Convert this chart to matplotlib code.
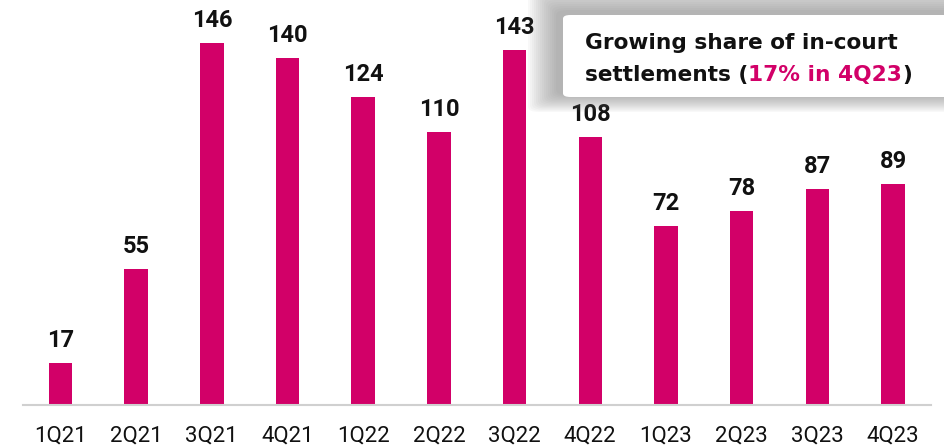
import matplotlib
matplotlib.use("Agg")
import matplotlib.pyplot as plt
from matplotlib.patches import FancyBboxPatch

plt.rcParams["font.family"] = ["Roboto", "DejaVu Sans"]

quarters = ["1Q21", "2Q21", "3Q21", "4Q21", "1Q22", "2Q22", "3Q22", "4Q22",
            "1Q23", "2Q23", "3Q23", "4Q23"]
values = [17, 55, 146, 140, 124, 110, 143, 108, 72, 78, 87, 89]

pink = "#D20068"
ink = "#111111"

fig = plt.figure(figsize=(9.44, 4.46), dpi=100)
ax = fig.add_axes([0.024, 0.092, 0.962, 0.89])

x = range(len(quarters))
ax.bar(x, values, width=0.31, color=pink, zorder=2)
for i, v in zip(x, values):
    ax.annotate(str(v), (i, v), xytext=(0, 11.5), textcoords="offset points",
                ha="center", va="baseline", fontsize=17, fontweight="bold",
                color=ink)

ax.set_xlim(-0.5, len(quarters) - 0.5)
ax.set_ylim(0, 160)
ax.set_xticks(list(x))
ax.set_xticklabels(quarters, fontsize=16, color=ink)
ax.tick_params(axis="x", length=0, pad=15)
ax.set_yticks([])
for s in ["top", "right", "left"]:
    ax.spines[s].set_visible(False)
ax.spines["bottom"].set_color("#d0d0d0")
ax.spines["bottom"].set_linewidth(1.5)

# callout box with soft shadow
W, H = 944, 446
bx, by, bw, bh = 563 / W, 1 - 97 / H, 400 / W, 82 / H
for k in range(15):
    p = 30 - 2 * k
    fig.patches.append(FancyBboxPatch(
        ((563 - 5 - p) / W, 1 - (97 - 3 + p * 0.6) / H),
        (400 + 2 * p) / W, (82 + p * 1.6) / H,
        boxstyle="round,pad=0,rounding_size=0.012", transform=fig.transFigure,
        facecolor="#707070", edgecolor="none", alpha=0.045, zorder=5))
fig.patches.append(FancyBboxPatch(
    (bx, by), bw, bh, boxstyle="round,pad=0,rounding_size=0.008",
    transform=fig.transFigure, facecolor="white", edgecolor="none", zorder=6))

fs = 15.6
box_font = "DejaVu Sans"
tx = 585 / W
fig.text(tx, 1 - 49 / H, "Growing share of in-court", fontsize=fs,
         family=box_font, fontweight="bold", color=ink, va="baseline", zorder=7)
r = fig.canvas.get_renderer()
y2 = 1 - 81 / H
t1 = fig.text(tx, y2, "settlements (", fontsize=fs, family=box_font,
              fontweight="bold", color=ink, va="baseline", zorder=7)
w1 = t1.get_window_extent(r).width / fig.bbox.width
t2 = fig.text(tx + w1, y2, "17% in 4Q23", fontsize=fs, family=box_font,
              fontweight="bold", color=pink, va="baseline", zorder=7)
w2 = t2.get_window_extent(r).width / fig.bbox.width
fig.text(tx + w1 + w2, y2, ")", fontsize=fs, family=box_font,
         fontweight="bold", color=ink, va="baseline", zorder=7)

fig.savefig("out.png", dpi=100)
